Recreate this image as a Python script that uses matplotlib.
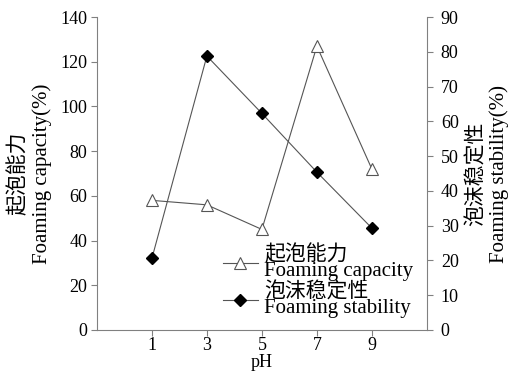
import matplotlib
matplotlib.use("Agg")
import matplotlib.pyplot as plt

ph = [1, 3, 5, 7, 9]
capacity = [58, 56, 45, 127, 72]
stability = [20.6, 78.8, 62.3, 45.4, 29.3]
xticks = [1, 3, 5, 7, 9]
left_ticks = [0, 20, 40, 60, 80, 100, 120, 140]
right_ticks = [0, 10, 20, 30, 40, 50, 60, 70, 80, 90]

plt.rcParams['font.family'] = ['Liberation Serif', 'Noto Sans CJK SC']
plt.rcParams['font.size'] = 13

fig = plt.figure(figsize=(5.1, 3.8), dpi=100)
ax = fig.add_axes([0.190, 0.1316, 0.647, 0.8234])
ax2 = ax.twinx()

gray = '#808080'
l1, = ax.plot(ph, capacity, color='#555555', lw=0.8, marker='^', ms=8,
              mfc='white', mec='#555555', mew=0.8,
              label='起泡能力\nFoaming capacity')
l2, = ax2.plot(ph, stability, color='#555555', lw=0.8, marker='D', ms=6,
               mfc='black', mec='black',
               label='泡沫稳定性\nFoaming stability')

ax.set_xlim(-1, 11)
ax.set_ylim(0, 140)
ax2.set_ylim(0, 90)
ax.set_xticks(xticks)
ax.set_yticks(left_ticks)
ax2.set_yticks(right_ticks)

for a in (ax, ax2):
    a.spines['top'].set_visible(False)
    for s in ('left', 'right', 'bottom'):
        a.spines[s].set_color(gray)
    a.tick_params(colors=gray, labelcolor='black', direction='out', length=4,
                  width=0.8, labelsize=13)
ax.tick_params(axis='x', pad=1)
ax.tick_params(axis='y', pad=3)
ax2.tick_params(axis='y', pad=6)
ax.spines['right'].set_visible(False)
ax2.spines['left'].set_visible(False)
ax2.spines['bottom'].set_visible(False)

ax.set_xlabel('pH', labelpad=0, fontsize=13)
ax.set_ylabel('起泡能力\nFoaming capacity(%)', labelpad=6, linespacing=1.25, fontsize=15)
ax2.set_ylabel('泡沫稳定性\nFoaming stability(%)', labelpad=6, linespacing=1.15, fontsize=15)

leg = ax.legend(handles=[l1, l2], loc='lower right', bbox_to_anchor=(1.01, -0.015),
                frameon=False, handlelength=1.7, handletextpad=0.3,
                labelspacing=0.1, fontsize=15, borderaxespad=0.4)
for t in leg.get_texts():
    t.set_linespacing(0.72)

fig.savefig('out.png', dpi=100)
